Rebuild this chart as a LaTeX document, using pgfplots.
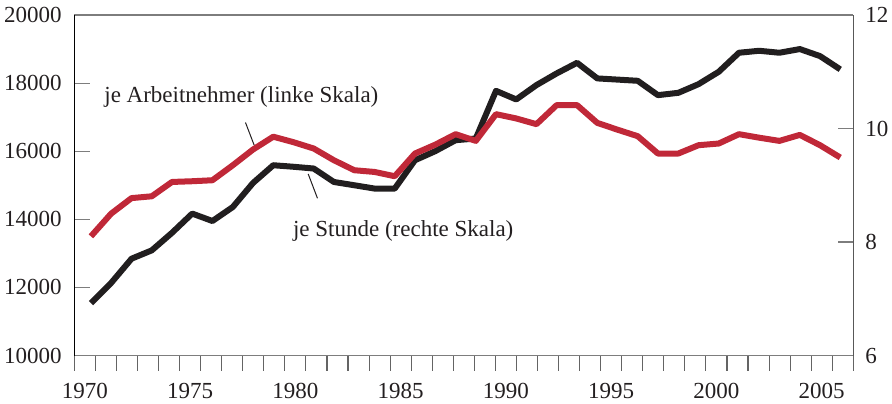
\documentclass[border=0pt]{standalone}
\usepackage{fontspec}
\setmainfont{Liberation Serif}
\usepackage{pgfplots}
\pgfplotsset{compat=1.18}
\definecolor{rot}{RGB}{192,40,56}
\definecolor{schwarz}{RGB}{33,30,31}
\definecolor{rahmen}{RGB}{125,125,125}
\definecolor{textgrau}{RGB}{35,31,32}
\pgfplotsset{
  common/.style={
    at={(0pt,0pt)}, anchor=south west, scale only axis,
    width=389.5pt, height=170.25pt,
    xmin=1969.5, xmax=2006.5,
    scaled x ticks=false, scaled y ticks=false,
    tick label style={font=\fontsize{11.5}{13}\selectfont, text=textgrau},
    /pgf/number format/assume math mode=true,
  }
}
\begin{document}
\begin{tikzpicture}
\useasboundingbox (-37.15pt,-23.75pt) rectangle (408.85pt,177.75pt);
% year ticks (outside, every year)
\begin{axis}[common, ymin=0, ymax=1,
  hide y axis, axis x line*=bottom, x axis line style={draw=none},
  xtick={1969.5,1970.5,...,2006.5}, xticklabels={},
  tick align=outside, major tick length=7.5pt,
  xtick style={draw=rahmen!80!black, line width=0.55pt}]
\end{axis}
% right scale: je Stunde
\begin{axis}[common, ymin=6, ymax=12,
  axis x line=none, axis y line*=right, xtick=\empty,
  y axis line style={draw=rahmen!70!black, line width=0.75pt},
  ytick={6,8,10,12}, tick align=inside, major tick length=7.5pt,
  ytick style={draw=rahmen, line width=0.55pt},
  yticklabel style={xshift=2.5pt}]
\addplot[schwarz, line width=3pt, line join=round] coordinates {
(1970.29,6.923) (1971.25,7.279) (1972.22,7.706) (1973.18,7.853) (1974.14,8.162)
(1975.10,8.501) (1976.06,8.370) (1977.03,8.617) (1977.99,9.041) (1978.95,9.353)
(1979.91,9.326) (1980.87,9.295) (1981.83,9.058) (1982.80,9.000) (1983.76,8.942)
(1984.72,8.942) (1985.68,9.441) (1986.64,9.600) (1987.61,9.794) (1988.57,9.824)
(1989.53,10.664) (1990.49,10.512) (1991.45,10.765) (1992.41,10.971) (1993.38,11.158)
(1994.34,10.883) (1995.30,10.862) (1996.26,10.841) (1997.22,10.588) (1998.19,10.629)
(1999.15,10.782) (2000.11,11.000) (2001.07,11.335) (2002.03,11.370) (2002.99,11.335)
(2003.96,11.400) (2004.92,11.276) (2005.88,11.042)};
\end{axis}
% left scale: je Arbeitnehmer
\begin{axis}[common, ymin=10000, ymax=20000,
  axis x line*=box, axis y line*=left,
  x axis line style={draw=rahmen, line width=0.8pt},
  y axis line style={draw=black, line width=0.8pt},
  ytick={10000,12000,14000,16000,18000,20000},
  yticklabels={10000,12000,14000,16000,18000,20000},
  tick align=inside, major tick length=8pt,
  ytick style={draw=rahmen, line width=0.55pt},
  xtick={1970,1975,1980,1985,1990,1995,2000,2005},
  xticklabels={1970,1975,1980,1985,1990,1995,2000,2005},
  xtick style={draw=none},
  xticklabel style={yshift=-10.4pt},
  yticklabel style={xshift=-2.8pt}]
\addplot[rot, line width=3pt, line join=round] coordinates {
(1970.29,13500) (1971.25,14167) (1972.22,14623) (1973.18,14676) (1974.14,15097)
(1975.10,15118) (1976.06,15147) (1977.03,15588) (1977.99,16050) (1978.95,16426)
(1979.91,16265) (1980.87,16079) (1981.83,15735) (1982.80,15441) (1983.76,15391)
(1984.72,15265) (1985.68,15932) (1986.64,16191) (1987.61,16500) (1988.57,16303)
(1989.53,17088) (1990.49,16962) (1991.45,16794) (1992.41,17353) (1993.38,17353)
(1994.34,16832) (1995.30,16632) (1996.26,16441) (1997.22,15932) (1998.19,15932)
(1999.15,16176) (2000.11,16226) (2001.07,16500) (2002.03,16397) (2002.99,16303)
(2003.96,16479) (2004.92,16176) (2005.88,15815)};
\draw[textgrau, line width=0.5pt] (axis cs:1977.63,16843) -- (axis cs:1978.04,16182);
\draw[textgrau, line width=0.5pt] (axis cs:1980.61,15331) -- (axis cs:1981.05,14617);
\node[anchor=base west, inner sep=0pt, text=textgrau, font=\fontsize{11.5}{13}\selectfont]
  at (axis cs:1970.91,17437) {je Arbeitnehmer (linke Skala)};
\node[anchor=base west, inner sep=0pt, text=textgrau, font=\fontsize{11.5}{13}\selectfont]
  at (axis cs:1979.87,13489) {je Stunde (rechte Skala)};
\end{axis}
\end{tikzpicture}
\end{document}
